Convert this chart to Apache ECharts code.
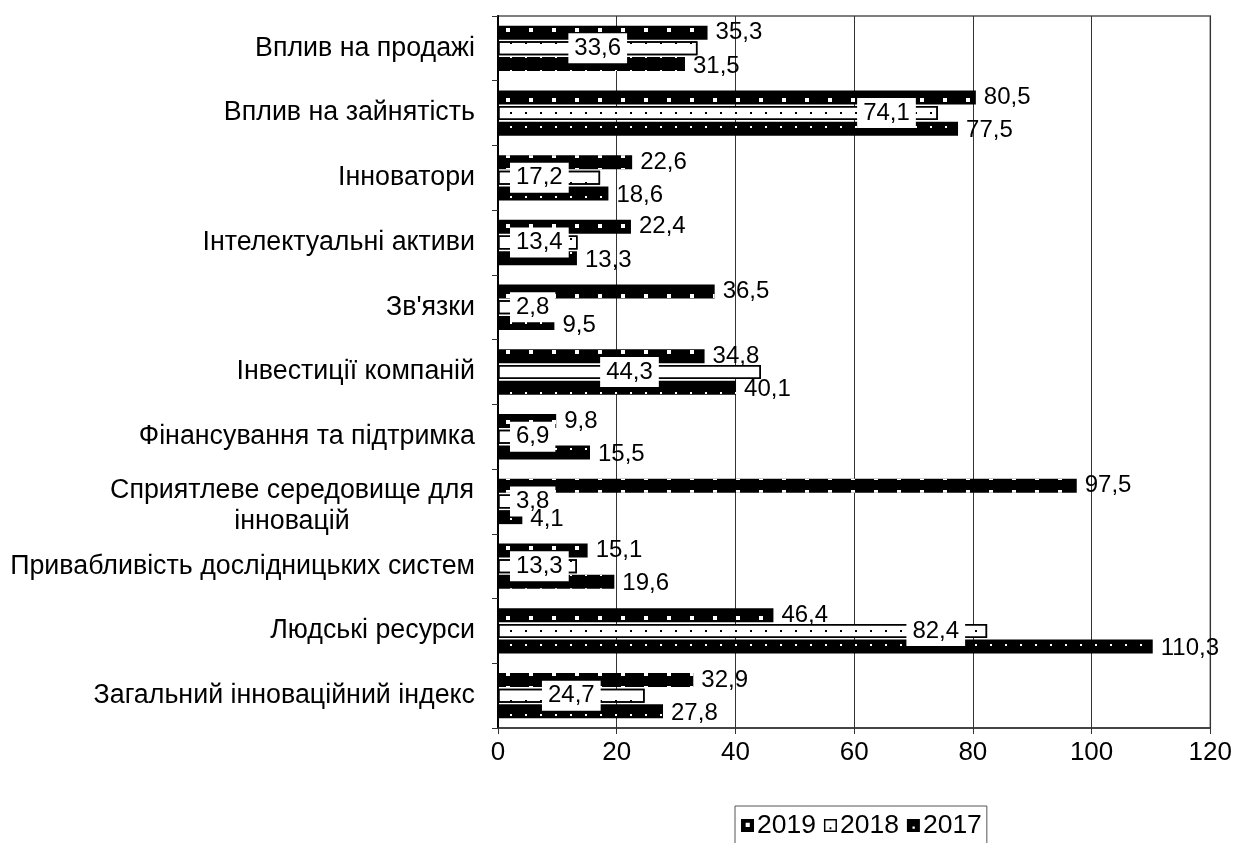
<!DOCTYPE html>
<html>
<head>
<meta charset="utf-8">
<script src="https://cdn.jsdelivr.net/npm/echarts@6/dist/echarts.min.js"></script>
<style>
html,body{margin:0;padding:0;background:#fff;}
#chart{width:1235px;height:843px;}
</style>
</head>
<body>
<div id="chart"></div>
<script>
const categories = [
  "Вплив на продажі",
  "Вплив на зайнятість",
  "Інноватори",
  "Інтелектуальні активи",
  "Зв'язки",
  "Інвестиції компаній",
  "Фінансування та підтримка",
  "Сприятлеве середовище для\nінновацій",
  "Привабливість дослідницьких систем",
  "Людські ресурси",
  "Загальний інноваційний індекс"
];
const seriesNames = ['2019', '2018', '2017'];
const values2019 = [35.3, 80.5, 22.6, 22.4, 36.5, 34.8, 9.8, 97.5, 15.1, 46.4, 32.9];
const values2018 = [33.6, 74.1, 17.2, 13.4, 2.8, 44.3, 6.9, 3.8, 13.3, 82.4, 24.7];
const values2017 = [31.5, 77.5, 18.6, 13.3, 9.5, 40.1, 15.5, 4.1, 19.6, 110.3, 27.8];
const xTicks = [0, 20, 40, 60, 80, 100, 120];

const FONT = '"Liberation Sans", Arial, sans-serif';
const CAT_SIZE = 26.8;
const fmt = p => String(p.value).replace('.', ',');

const measureCtx = document.createElement('canvas').getContext('2d');
measureCtx.font = CAT_SIZE + 'px ' + FONT;
function textWidth(t) { return Math.ceil(measureCtx.measureText(t).width) + 2; }

function data2018() {
  return values2018.map(v => {
    let label;
    if (v > 60) label = { position: 'insideRight', distance: 22 };
    else if (v >= 20) label = { position: 'inside' };
    else label = { position: 'insideLeft', distance: 12 };
    return { value: v, label };
  });
}

let maxLine = 0;
categories.forEach(c => { if (c.indexOf('\n') >= 0) c.split('\n').forEach(t => { maxLine = Math.max(maxLine, textWidth(t)); }); });

const legendIcons = {
  '2019': 'path://M0,0H14V14H0Z M5,4V8.5H9.5V4Z',
  '2018': 'path://M0,0H14V14H0Z M1.6,1.6V12.4H12.4V1.6Z M6,9H8V11H6Z',
  '2017': 'path://M0,0H14V14H0Z M6,8V10.5H8.5V8Z'
};

const chart = echarts.init(document.getElementById('chart'), null, { renderer: 'canvas' });
chart.setOption({
  animation: false,
  backgroundColor: '#fff',
  textStyle: { fontFamily: FONT, color: '#000' },
  grid: { left: 498, right: 23, top: 16, bottom: 115, show: true, borderColor: '#555', borderWidth: 1.5, backgroundColor: 'transparent' },
  legend: {
    left: 735, top: 806,
    itemWidth: 13, itemHeight: 13, itemGap: 8,
    padding: [6, 5, 8, 6],
    borderColor: '#555', borderWidth: 1,
    itemStyle: { decal: 'none', borderWidth: 0 },
    textStyle: { fontFamily: FONT, fontSize: 26.5, color: '#000', padding: [0, 0, 0, -2] },
    data: seriesNames.map(n => ({ name: n, icon: legendIcons[n], itemStyle: { color: '#000', decal: 'none', borderWidth: 0 } }))
  },
  xAxis: {
    type: 'value', min: xTicks[0], max: xTicks[xTicks.length - 1], interval: 20,
    axisLine: { show: true, lineStyle: { color: '#333', width: 1.5 } },
    axisTick: { show: true, length: 6, lineStyle: { color: '#333' } },
    axisLabel: { fontFamily: FONT, fontSize: 26, color: '#000', margin: 12 },
    splitLine: { show: true, lineStyle: { color: '#333', width: 1 } }
  },
  yAxis: {
    type: 'category', data: categories, inverse: true,
    axisLine: { show: true, lineStyle: { color: '#000', width: 2 } },
    axisTick: { show: true, length: 6, lineStyle: { color: '#333' } },
    axisLabel: {
      fontFamily: FONT, fontSize: CAT_SIZE, color: '#000', margin: 23, lineHeight: 31,
      formatter: s => s.indexOf('\n') >= 0 ? s.split('\n').map(t => '{c|' + t + '}').join('\n') : s,
      rich: { c: { fontFamily: FONT, fontSize: CAT_SIZE, width: maxLine, align: 'center', lineHeight: 31, color: '#000', padding: [10, 0, 0, 0] } }
    }
  },
  series: [
    {
      name: seriesNames[0], type: 'bar', data: values2019, barWidth: 14, barGap: '12%', barCategoryGap: '30%',
      itemStyle: { color: '#000', decal: { symbol: 'rect', symbolSize: 1, color: '#fff', dashArrayX: [4, 19], dashArrayY: [4, 10], rotation: 0 } },
      label: { show: true, position: 'right', distance: 8, offset: [0, 0], fontFamily: FONT, fontSize: 24, color: '#000', formatter: fmt }
    },
    {
      name: seriesNames[1], type: 'bar', data: data2018(), barWidth: 14,
      itemStyle: { color: '#fff', borderColor: '#000', borderWidth: 1.5, decal: { symbol: 'rect', symbolSize: 1, color: '#000', dashArrayX: [2, 13], dashArrayY: [2, 12], rotation: 0 } },
      label: { show: true, fontFamily: FONT, fontSize: 24, color: '#000', backgroundColor: '#fff', padding: [3, 6], formatter: fmt }
    },
    {
      name: seriesNames[2], type: 'bar', data: values2017, barWidth: 14,
      itemStyle: { color: '#000', decal: { symbol: 'rect', symbolSize: 1, color: '#fff', dashArrayX: [2, 13], dashArrayY: [2, 12], rotation: 0 } },
      label: { show: true, position: 'right', distance: 8, offset: [0, 2], fontFamily: FONT, fontSize: 24, color: '#000', formatter: fmt }
    }
  ]
});
</script>
</body>
</html>
